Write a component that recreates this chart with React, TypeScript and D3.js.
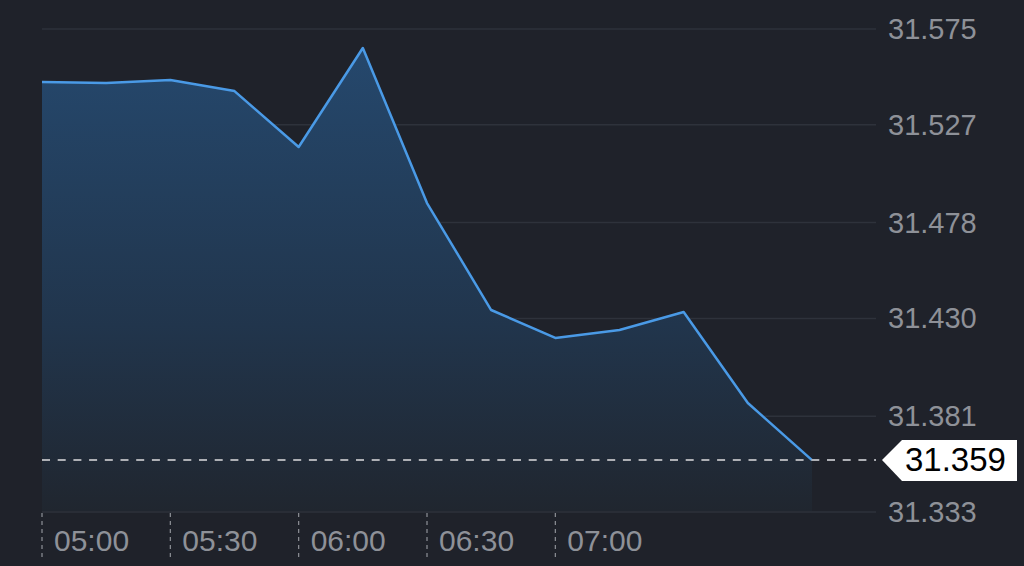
import React from "react";
import * as d3 from "d3";

const times = ["05:00","05:15","05:30","05:45","06:00","06:15","06:30","06:45","07:00","07:15","07:30","07:45","08:00"];
const prices = [31.5484, 31.548, 31.5494, 31.5439, 31.5159, 31.5655, 31.4878, 31.4342, 31.4202, 31.4242, 31.4332, 31.3876, 31.359];
const yTicks = [31.333, 31.381, 31.43, 31.478, 31.527, 31.575];
const xTickLabels = ["05:00", "05:30", "06:00", "06:30", "07:00"];
const lastPrice = 31.359;

const W = 1024, H = 566;
const FONT = "'Liberation Sans', Arial, Helvetica, sans-serif";

export default function App() {
  const parse = d3.timeParse("%H:%M");
  const dates = times.map((t) => parse(t) as Date);
  const x = d3.scaleTime().domain([dates[0], dates[dates.length - 1]]).range([42, 812]);
  const y = d3.scaleLinear().domain([31.333, 31.575]).range([512, 29]);
  const data = dates.map((d, i) => ({ d, v: prices[i] }));
  const line = d3.line<{ d: Date; v: number }>().x((p) => x(p.d)).y((p) => y(p.v));
  const area = d3.area<{ d: Date; v: number }>().x((p) => x(p.d)).y0(511).y1((p) => y(p.v));
  const yLast = y(lastPrice);

  return (
    <svg width={W} height={H} style={{ position: "absolute", left: 0, top: 0, display: "block" }}>
      <defs>
        <linearGradient id="fillG" x1="0" y1="0" x2="0" y2="1" gradientUnits="objectBoundingBox">
          <stop offset="0%" stopColor="#25486d" />
          <stop offset="60%" stopColor="#21354c" />
          <stop offset="100%" stopColor="#20262f" />
        </linearGradient>
      </defs>
      <rect x={0} y={0} width={W} height={H} fill="#1f222a" />
      {yTicks.map((t) => (
        <line key={t} x1={42} x2={876} y1={y(t)} y2={y(t)} stroke="#2e323b" strokeWidth={1.5} />
      ))}
      <path d={area(data) || ""} fill="url(#fillG)" />
      <path d={line(data) || ""} fill="none" stroke="#4a9ae6" strokeWidth={2.5} strokeLinejoin="round" />
      {yTicks.map((t) => (
        <text key={"l" + t} x={888} y={y(t) + 10} fill="#8e9198" fontSize={29} fontFamily={FONT}>
          {t.toFixed(3)}
        </text>
      ))}
      {xTickLabels.map((lab) => {
        const xx = x(parse(lab) as Date);
        return (
          <g key={lab}>
            <line x1={xx} x2={xx} y1={513} y2={558} stroke="#8e9198" strokeWidth={1.2} strokeDasharray="4 4" />
            <text x={xx + 12} y={551} fill="#8e9198" fontSize={30} fontFamily={FONT}>{lab}</text>
          </g>
        );
      })}
      <line x1={42} x2={876} y1={yLast} y2={yLast} stroke="#aeb0b5" strokeWidth={2} strokeDasharray="8 7.7" />
      <path
        d={`M882,${yLast} L902,${yLast - 20} L1017,${yLast - 20} L1017,${yLast + 21} L902,${yLast + 21} Z`}
        fill="#ffffff"
      />
      <text x={905} y={yLast + 11} fill="#000" fontSize={33} fontFamily={FONT}>{lastPrice.toFixed(3)}</text>
    </svg>
  );
}
